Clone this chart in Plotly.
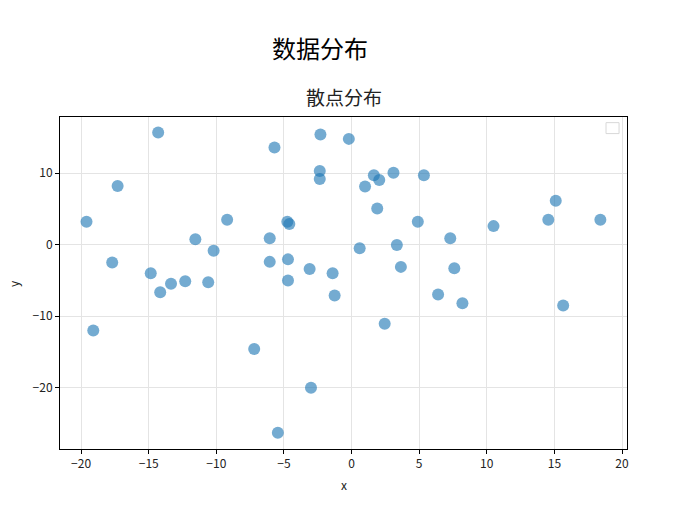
import plotly.graph_objects as go

# points
x_vals = [-14.3, -5.7, -2.3, -0.2, -2.35, -2.35, -17.3, -19.6, -9.2, -4.75,
          -4.6, -11.55, -6.05, -10.2, -17.7, -6.05, -4.7, -14.85, -3.1, -1.4,
          -13.35, -12.3, -10.6, -14.15, -4.7, -1.25, 0.6, 1.65, 2.05, 3.1,
          5.35, 1.0, 1.9, 4.9, 15.1, 14.55, 18.4, 10.5, 7.3, 3.35,
          3.65, 7.6, 6.4, 8.2, 15.65, -19.1, 2.45, -7.2, -3.0, -5.45]
y_vals = [15.7, 13.6, 15.4, 14.8, 10.3, 9.2, 8.2, 3.2, 3.5, 3.2,
          2.9, 0.75, 0.9, -0.85, -2.5, -2.4, -2.05, -4.0, -3.4, -4.0,
          -5.45, -5.1, -5.25, -6.65, -5.0, -7.1, -0.5, 9.7, 9.05, 10.05,
          9.7, 8.15, 5.05, 3.2, 6.15, 3.5, 3.5, 2.6, 0.9, -0.05,
          -3.1, -3.3, -6.95, -8.2, -8.5, -12.0, -11.05, -14.6, -20.0, -26.3]

x_ticks = [-20, -15, -10, -5, 0, 5, 10, 15, 20]
y_ticks = [-20, -10, 0, 10]

suptitle = "数据分布"
subtitle = "散点分布"

FONT = "Noto Sans CJK SC, DejaVu Sans, sans-serif"

# the page body adds 8px around the figure
W, H = 667, 492

fig = go.Figure()
fig.add_trace(go.Scatter(
    x=x_vals, y=y_vals, mode="markers",
    marker=dict(size=12, color="#1f77b4", opacity=0.62, line=dict(width=0)),
    showlegend=False,
))

axis_style = dict(
    showline=True, linecolor="black", linewidth=1, mirror=True,
    ticks="outside", ticklen=4, tickcolor="black", tickwidth=1,
    showgrid=True, gridcolor="#e4e4e4", gridwidth=1, zeroline=False,
    tickfont=dict(family=FONT, size=12, color="#222"),
)

fig.update_xaxes(range=[-21.56, 20.37], tickvals=x_ticks, **axis_style)
fig.update_yaxes(range=[-28.57, 17.86], tickvals=y_ticks, **axis_style)

fig.update_layout(
    width=W, height=H,
    margin=dict(l=52, r=48, t=109, b=51),
    paper_bgcolor="white", plot_bgcolor="white",
    font=dict(family=FONT, color="black"),
    title=dict(text=suptitle, x=312 / W, xanchor="center",
               y=1 - 42 / H, yanchor="middle",
               font=dict(size=24, family=FONT, color="black")),
    annotations=[
        dict(text=subtitle, xref="paper", yref="paper", x=0.5, y=1.061,
             xanchor="center", yanchor="middle", showarrow=False,
             font=dict(size=19, family=FONT, color="#222")),
        dict(text="x", xref="paper", yref="paper", x=0.5, y=-0.108,
             xanchor="center", yanchor="middle", showarrow=False,
             font=dict(size=12, family=FONT, color="#222")),
        dict(text="y", xref="paper", yref="paper", x=-0.083, y=0.5,
             xanchor="center", yanchor="middle", showarrow=False, textangle=-90,
             font=dict(size=12, family=FONT, color="#222")),
    ],
    # empty legend box in the top right corner
    shapes=[dict(type="rect", xref="paper", yref="paper",
                 x0=0.963, x1=0.986, y0=0.950, y1=0.983,
                 line=dict(color="#d8d8d8", width=1), fillcolor="white")],
)

fig.write_html("out.html")
